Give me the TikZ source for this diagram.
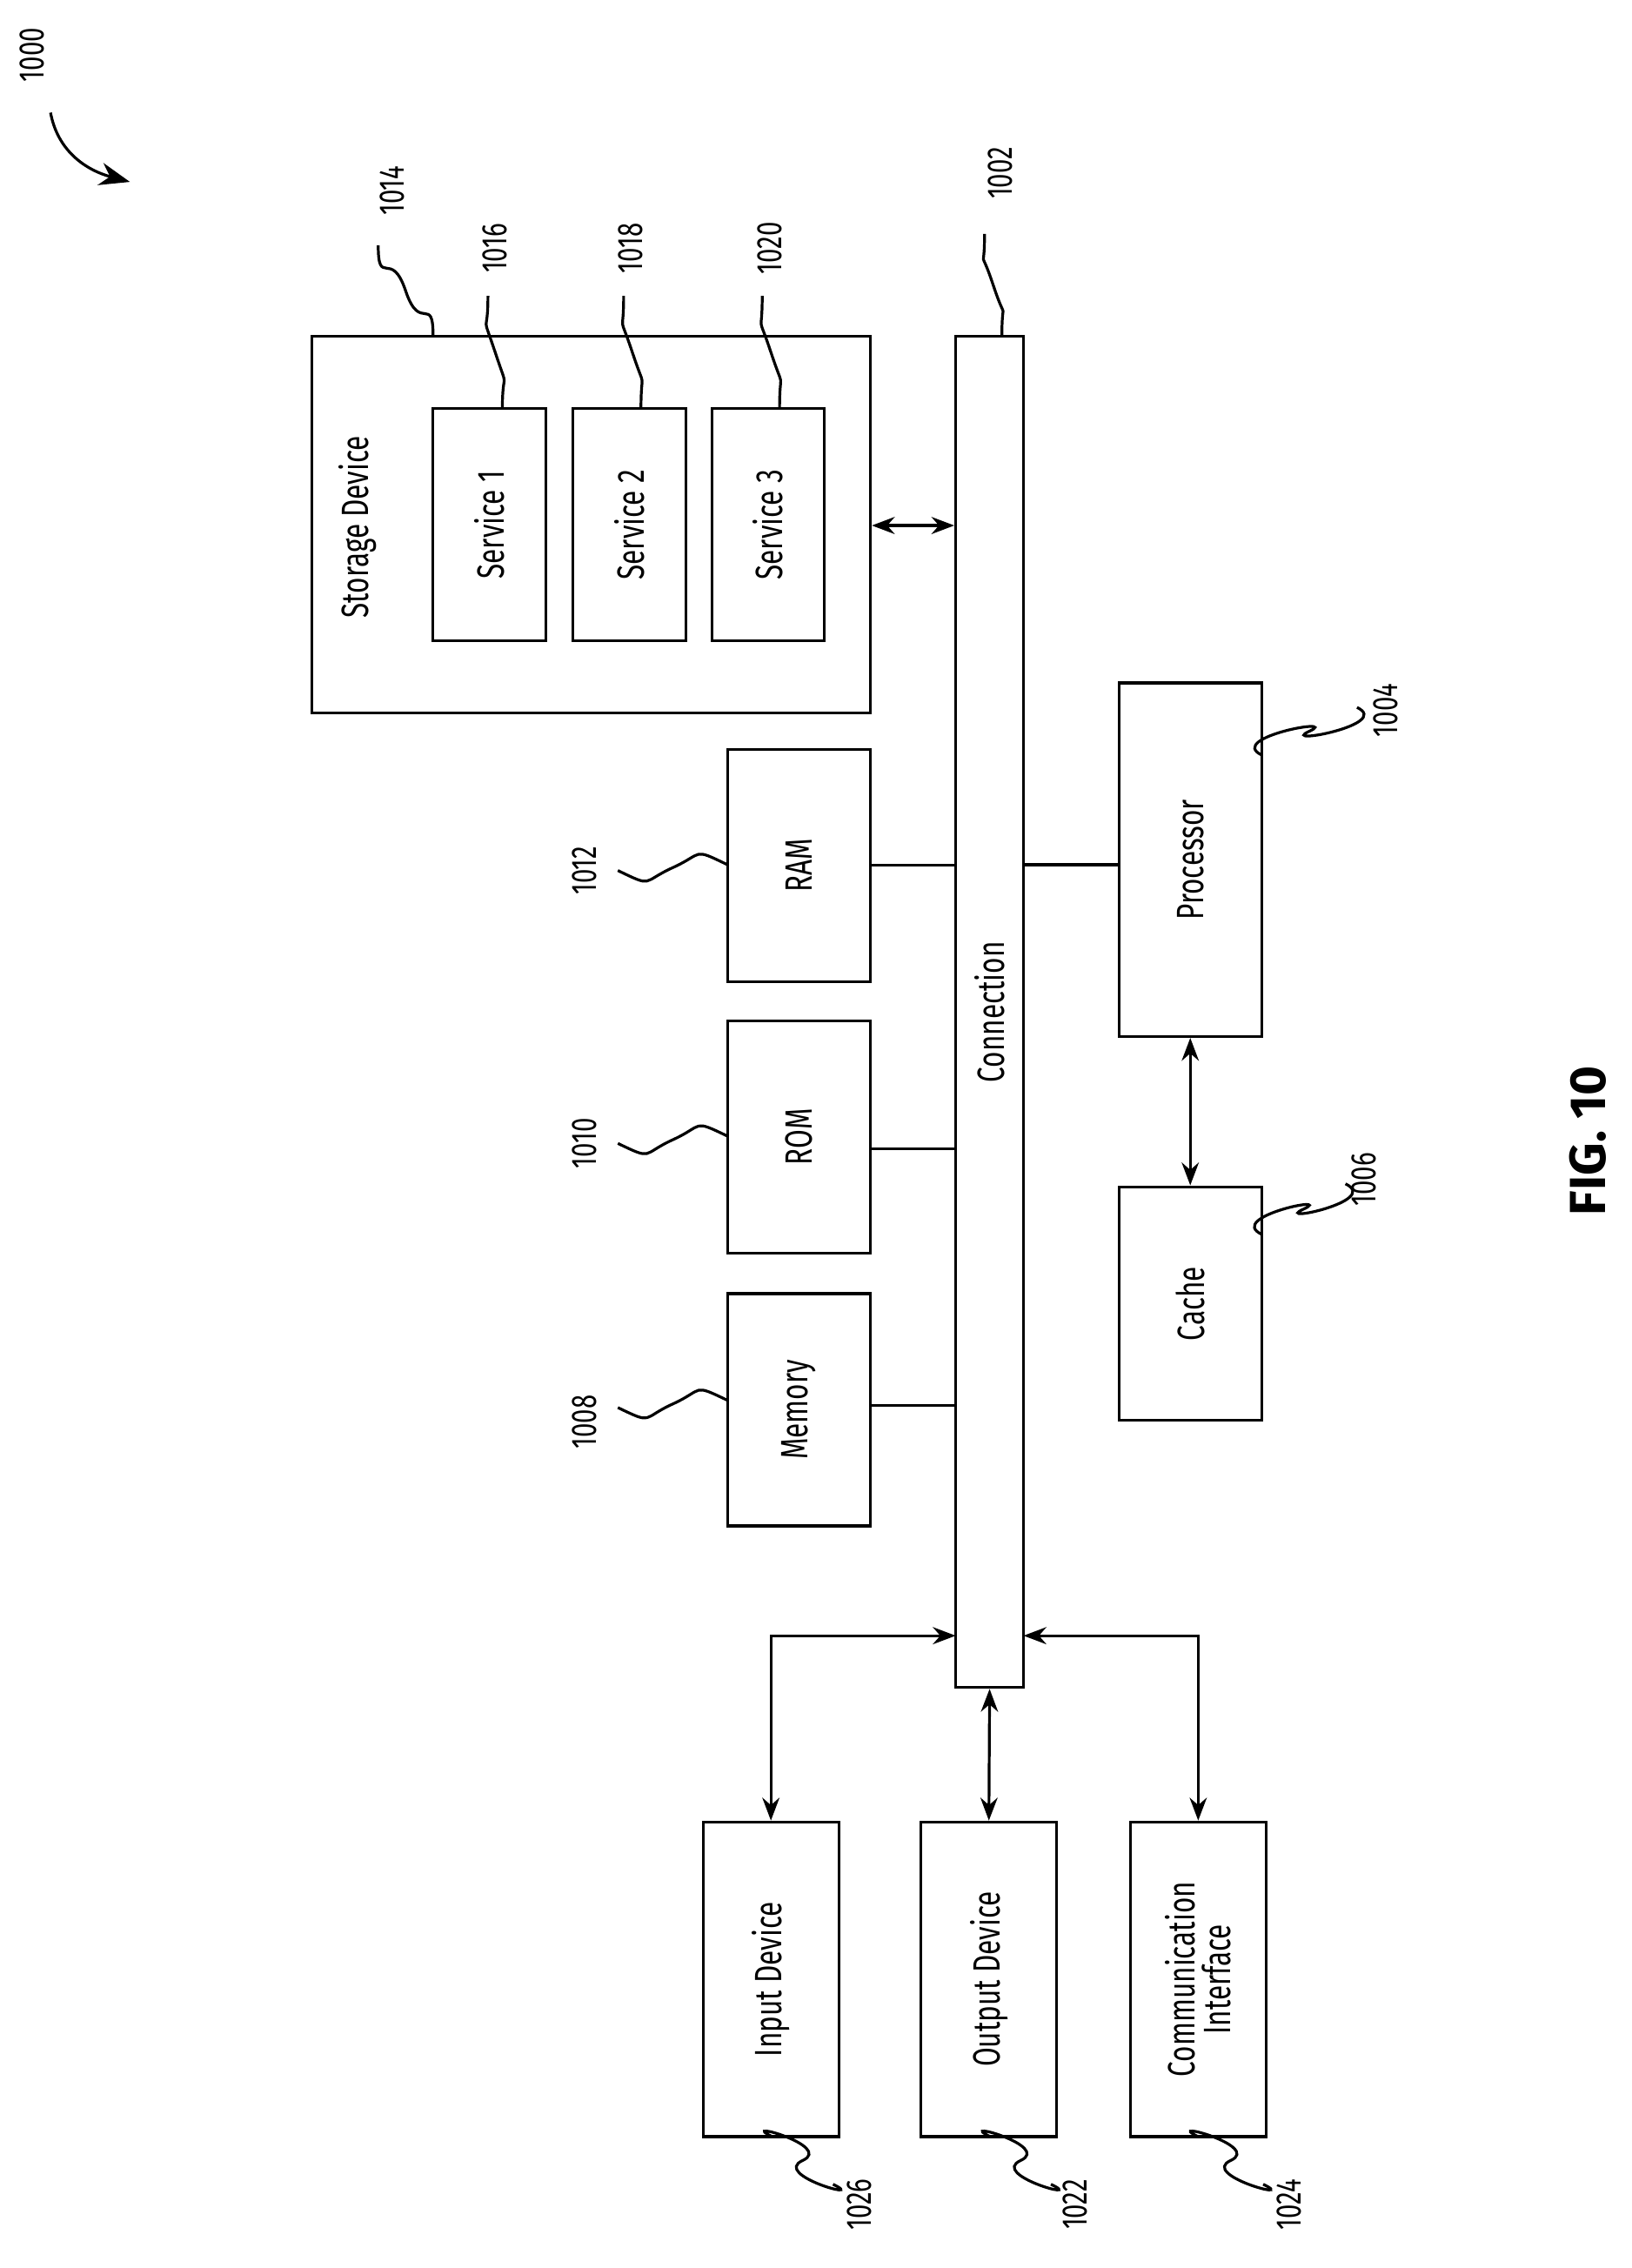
\documentclass[tikz,border=0pt]{standalone}
\usepackage{fontspec}
\setmainfont{Fira Sans}
\usetikzlibrary{arrows.meta,calc}

\begin{document}
\begin{tikzpicture}
  [x=0.02cm,y=-0.02cm,line width=1.1pt,
   box/.style={draw,rectangle,inner sep=0pt},
   lbl/.style={rotate=90,xscale=.72,font=\fontsize{15}{17}\selectfont,align=center},
   num/.style={rotate=90,xscale=.72,font=\fontsize{14}{16}\selectfont},
   dbl/.style={{Stealth[length=9pt]}-{Stealth[length=9pt]}}]
  \useasboundingbox (0,0) rectangle (1130,1571);
  % storage and services
  \node[box,minimum width=7.74cm,minimum height=5.22cm] (storage) at (409.5,363.5) {};
  \node[lbl] at (248,365) {Storage Device};
  \node[box,minimum width=1.56cm,minimum height=3.22cm] (svc1) at (339,363.5) {};
  \node[box,minimum width=1.56cm,minimum height=3.22cm] (svc2) at (436,363.5) {};
  \node[box,minimum width=1.56cm,minimum height=3.22cm] (svc3) at (532,363.5) {};
  \node[lbl] at (svc1) {Service 1};
  \node[lbl] at (svc2) {Service 2};
  \node[lbl] at (svc3) {Service 3};
  % bus
  \node[box,minimum width=0.94cm,minimum height=18.72cm] (bus) at (685.5,701) {};
  \node[lbl] at (bus) {Connection};
  % memories
  \node[box,minimum width=1.98cm,minimum height=3.22cm] (ram) at (553.5,599.5) {};
  \node[box,minimum width=1.98cm,minimum height=3.22cm] (rom) at (553.5,787.5) {};
  \node[box,minimum width=1.98cm,minimum height=3.22cm] (mem) at (553.5,976.5) {};
  \node[lbl] at (ram) {RAM};
  \node[lbl] at (rom) {ROM};
  \node[lbl] at (mem) {Memory};
  % processor side
  \node[box,minimum width=1.98cm,minimum height=4.9cm] (cpu) at (824.5,595.5) {};
  \node[box,minimum width=1.98cm,minimum height=3.24cm] (cache) at (824.5,903) {};
  \node[lbl] at (cpu) {Processor};
  \node[lbl] at (cache) {Cache};
  % i/o
  \node[box,minimum width=1.88cm,minimum height=4.36cm] (in) at (534,1371) {};
  \node[box,minimum width=1.88cm,minimum height=4.36cm] (out) at (685,1371) {};
  \node[box,minimum width=1.88cm,minimum height=4.36cm] (comm) at (830,1371) {};
  \node[lbl] at (in) {Input Device};
  \node[lbl] at (out) {Output Device};
  \node[lbl] at (comm) {Communication\\[-3pt]Interface};
  \coordinate (busL) at (662,1133);
  \coordinate (busR) at (709,1133);

  \draw[dbl] (storage.east |- 0,364) -- (bus.west |- 0,364);
  \draw (ram.east) -- (bus.west |- ram);
  \draw (rom.east |- 0,795.5) -- (bus.west |- 0,795.5);
  \draw (mem.east |- 0,973.5) -- (bus.west |- 0,973.5);
  \draw (cpu.west |- 0,599) -- (bus.east |- 0,599);
  \draw[dbl] (cpu.south) -- (cache.north);
  \draw[dbl] (busL) -| (in.north);
  \draw[dbl] (bus.south) -- (out.north);
  \draw[dbl] (busR) -| (comm.north);

  % reference numerals
  \node[num] (n1000) at (22,38) {1000};
  \node[num] at (272,132) {1014};
  \node[num] at (343,172) {1016};
  \node[num] at (437,172) {1018};
  \node[num] at (533,172) {1020};
  \node[num] at (693,120) {1002};
  \node[num] at (405,603) {1012};
  \node[num] at (405,792) {1010};
  \node[num] at (405,985) {1008};
  \node[num] at (960,492) {1004};
  \node[num] at (945,817) {1006};
  \node[num] at (595,1527) {1026};
  \node[num] at (745,1527) {1022};
  \node[num] at (893,1527) {1024};
  \node[rotate=90,font=\bfseries\fontsize{20}{22}\selectfont] at (1100,790) {FIG. 10};

  \draw[-{Stealth[length=12pt]}] (35,78) .. controls (40,105) and (60,118) .. (90,126);
  \foreach \ax/\ay/\bx/\by in {300/233/262/170,348/283/338/205,444/283/432/205,
                               540/283/528/205,694/233/682/162}
    \draw (\ax,\ay) .. controls +(0,-30) and +(10,30) .. ($(\ax,\ay)!.5!(\bx,\by)$)
          .. controls +(-10,-30) and +(0,30) .. (\bx,\by);
  \foreach \ax/\ay/\bx/\by in {504/599/428/603,504/787/428/792,504/970/428/975,
                               874/523/940/490,874/855/932/820,
                               535/1480/577/1513,686/1480/728/1513,830/1480/875/1513}
    \draw (\ax,\ay) .. controls +(-25,-12) and +(22,-10) .. ($(\ax,\ay)!.5!(\bx,\by)$)
          .. controls +(-22,10) and +(25,12) .. (\bx,\by);
\end{tikzpicture}
\end{document}
